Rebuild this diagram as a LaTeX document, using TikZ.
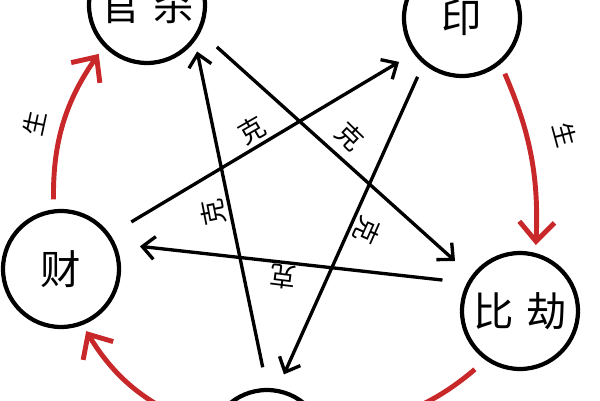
\documentclass[tikz,border=0pt]{standalone}
\usepackage{fontspec}
\setmainfont{Noto Sans CJK SC}
\usetikzlibrary{arrows.meta}
\definecolor{shengred}{RGB}{200,40,42}

\begin{document}
\begin{tikzpicture}
                \tikzset{x=0.02cm, y=-0.02cm}
                \tikzstyle{gong}=[circle, draw, line width=2.4pt, minimum size=2.32cm, inner sep=0pt, font=\fontsize{23}{23}\selectfont]
                \tikzstyle{ke}=[-{Straight Barb[length=7pt, width=13pt]}, line width=1.9pt]
                \tikzstyle{sheng}=[-{Straight Barb[length=11pt, width=20pt]}, line width=2.8pt, shengred]
                \tikzstyle{kelabel}=[inner sep=0pt, font=\fontsize{15}{15}\selectfont]
                \tikzstyle{shenglabel}=[inner sep=0pt, font=\fontsize{14}{14}\selectfont]

                \useasboundingbox (0, 0) rectangle (600, 400);

                \draw (147, 5)      node[gong]   (guansha)  {官\hspace{0.3em}杀};
                \draw (462, 18)     node[gong]   (yin)      {印};
                \draw (520, 311)    node[gong]   (bijie)    {比\hspace{0.3em}劫};
                \draw (267, 448)    node[gong]   (shishang) {};
                \draw (61, 269)     node[gong]   (cai)      {财};

                \draw [ke, shorten <=14pt, shorten >=9.5pt]   (cai.35)       -- (yin.216);
                \draw [ke, shorten <=8pt, shorten >=9pt]      (yin.230)      -- (shishang.80);
                \draw [ke, shorten <=12pt, shorten >=6pt]     (shishang.90)  -- (guansha.-37);
                \draw [ke, shorten <=12.5pt, shorten >=12.5pt] (guansha.-27) -- (bijie.144);
                \draw [ke, shorten <=14pt, shorten >=14pt]    (bijie.152)    -- (cai.25);

                \draw (252, 130)    node[kelabel, rotate=30]    (k1) {克};
                \draw (350, 136)    node[kelabel, rotate=-44]   (k2) {克};
                \draw (213, 212)    node[kelabel, rotate=101]   (k3) {克};
                \draw (367, 231)    node[kelabel, rotate=-114]  (k4) {克};
                \draw (283, 277)    node[kelabel, rotate=173]   (k5) {克};

                \draw [sheng, shorten <=5.7pt, shorten >=5pt] (cai.97)       to[bend left=18] (guansha.224);
                \draw [sheng, shorten <=6pt, shorten >=4.5pt] (yin.-50)      to[bend left=13] (bijie.75);
                \draw [sheng, shorten <=8pt, shorten >=5pt]   (bijie.-125)   to[bend left=18] (shishang.20);
                \draw [sheng, shorten <=5pt, shorten >=4pt]   (shishang.160) to[bend left=20] (cai.-69);

                \draw (35, 123)     node[shenglabel, rotate=78]  (s1) {生};
                \draw (565, 135)    node[shenglabel, rotate=-75] (s2) {生};
\end{tikzpicture}
\end{document}
